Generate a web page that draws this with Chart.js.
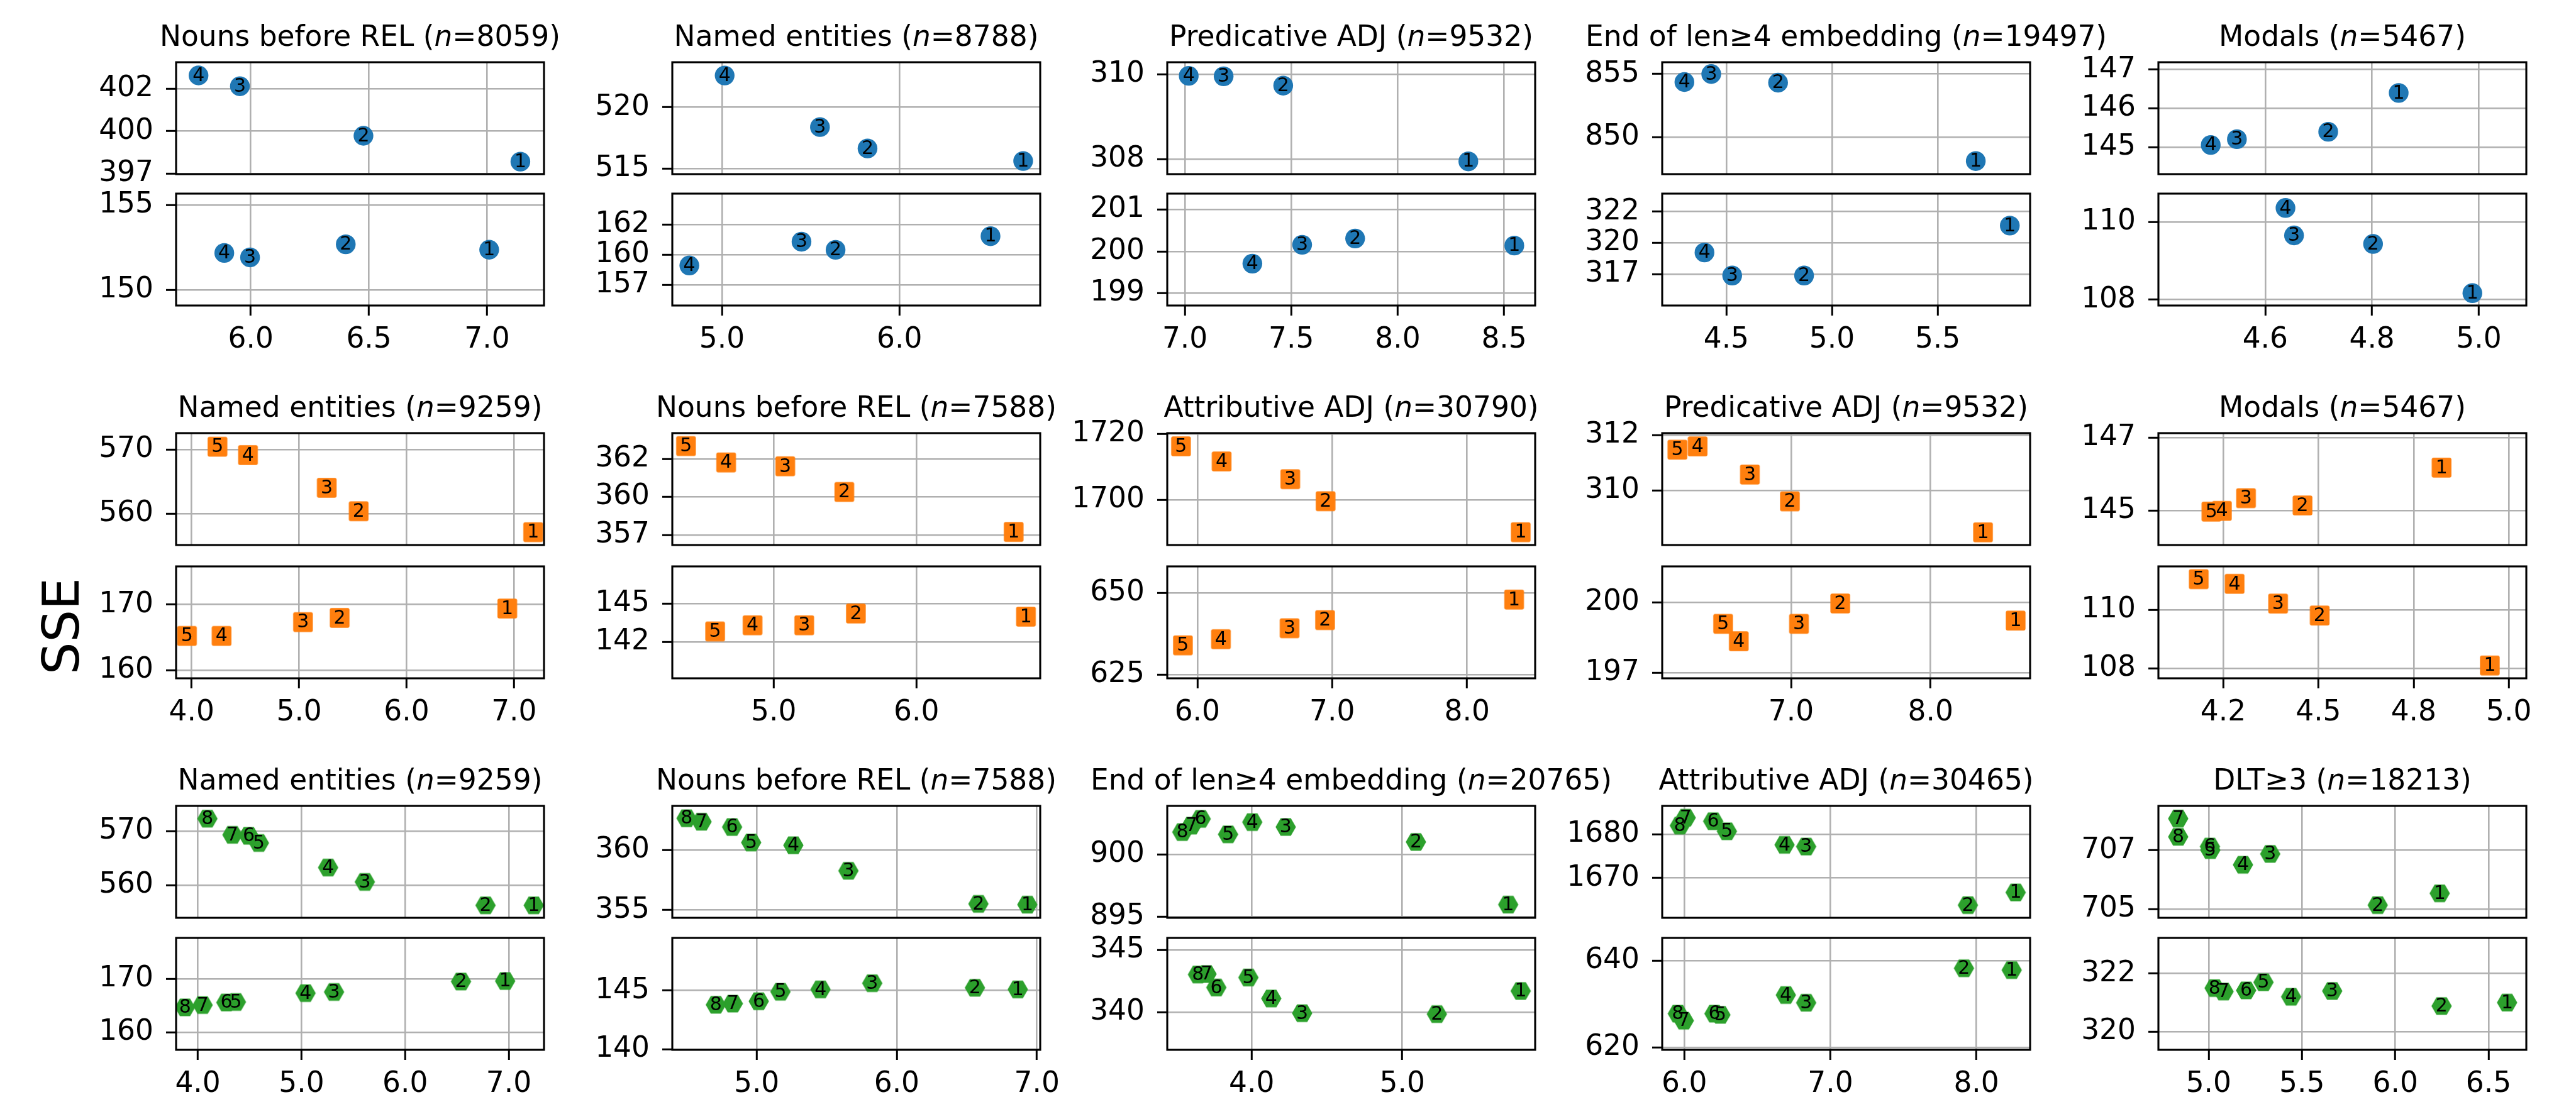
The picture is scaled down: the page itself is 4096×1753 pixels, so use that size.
<!DOCTYPE html>
<html>
<head>
<meta charset="utf-8">
<title>SSE panels</title>
<script src="https://cdn.jsdelivr.net/npm/chart.js@4.4.1/dist/chart.umd.min.js"></script>
<style>
  html, body { margin: 0; padding: 0; background: #fff; }
  body { width: 4096px; height: 1753px; position: relative; overflow: hidden; }
  canvas { position: absolute; }
  #sse {
    position: absolute; left: 97px; top: 996px;
    font-family: 'DejaVu Sans'; font-size: 81px; line-height: 1; white-space: nowrap;
    transform: translate(-50%, -50%) rotate(-90deg);
  }
</style>
</head>
<body>
<div id="sse">SSE</div>
<script>
// ---- row 1: four points per panel (blue circles) ----
const row1Titles = ['Nouns before REL', 'Named entities', 'Predicative ADJ', 'End of len\u22654 embedding', 'Modals'];
const row1N = [8059, 8788, 9532, 19497, 5467];
const row1TopX = [
    [7.141, 6.477, 5.954, 5.779],
    [6.697, 5.820, 5.552, 5.015],
    [8.332, 7.462, 7.182, 7.018],
    [5.680, 4.745, 4.429, 4.302],
    [4.850, 4.718, 4.547, 4.498]
];
const row1TopY = [
    [398.34, 399.75, 402.45, 403.04],
    [515.63, 516.65, 518.39, 522.59],
    [307.95, 309.73, 309.95, 309.96],
    [848.14, 854.32, 855.00, 854.37],
    [146.40, 145.40, 145.21, 145.06]
];
const row1BotX = [
    [7.009, 6.402, 5.997, 5.888],
    [6.513, 5.640, 5.448, 4.816],
    [8.548, 7.800, 7.551, 7.317],
    [5.841, 4.868, 4.528, 4.397],
    [4.988, 4.802, 4.654, 4.638]
];
const row1BotY = [
    [152.36, 152.68, 151.91, 152.17],
    [161.41, 160.37, 160.99, 159.18],
    [200.14, 200.31, 200.16, 199.71],
    [321.27, 317.59, 317.59, 319.29],
    [108.17, 109.44, 109.66, 110.37]
];
const row1XRange = [[5.684, 7.241], [4.720, 6.793], [6.917, 8.646], [4.197, 5.937], [4.400, 5.089]];
const row1XTicks = [[6.0, 6.5, 7.0], [5.0, 6.0], [7.0, 7.5, 8.0, 8.5], [4.5, 5.0, 5.5], [4.6, 4.8, 5.0]];
const row1XLabels = [['6.0', '6.5', '7.0'], ['5.0', '6.0'], ['7.0', '7.5', '8.0', '8.5'], ['4.5', '5.0', '5.5'], ['4.6', '4.8', '5.0']];
const row1TopYRange = [[397.66, 403.76], [514.56, 523.67], [307.65, 310.28], [847.11, 855.93], [144.31, 147.19]];
const row1TopYTicks = [[397.7, 400.0, 402.3], [515, 520], [308, 310], [850, 855], [145, 146, 147]];
const row1BotYRange = [[149.08, 155.66], [156.13, 164.65], [198.71, 201.38], [315.38, 323.63], [107.85, 110.74]];
const row1BotYTicks = [[150, 155], [157.7, 160.0, 162.3], [199, 200, 201], [317.7, 320.0, 322.3], [108, 110]];

// ---- row 2: five points per panel (orange squares) ----
const row2Titles = ['Named entities', 'Nouns before REL', 'Attributive ADJ', 'Predicative ADJ', 'Modals'];
const row2N = [9259, 7588, 30790, 9532, 5467];
const row2TopX = [
    [7.178, 5.554, 5.257, 4.524, 4.240],
    [6.681, 5.495, 5.081, 4.667, 4.386],
    [8.398, 6.951, 6.689, 6.180, 5.879],
    [8.376, 6.991, 6.704, 6.329, 6.184],
    [4.888, 4.450, 4.272, 4.196, 4.163]
];
const row2TopY = [
    [557.18, 560.42, 564.05, 569.12, 570.42],
    [357.89, 360.30, 361.85, 362.08, 363.07],
    [1690.2, 1699.6, 1706.3, 1711.7, 1716.3],
    [308.48, 309.60, 310.57, 311.59, 311.47],
    [146.18, 145.14, 145.34, 144.99, 144.97]
];
const row2BotX = [
    [6.937, 5.377, 5.036, 4.278, 3.956],
    [6.767, 5.576, 5.214, 4.852, 4.590],
    [8.349, 6.947, 6.684, 6.175, 5.893],
    [8.610, 7.352, 7.056, 6.624, 6.512],
    [5.040, 4.504, 4.373, 4.236, 4.123]
];
const row2BotY = [
    [169.40, 167.98, 167.34, 165.24, 165.24],
    [143.99, 144.24, 143.31, 143.31, 142.82],
    [647.95, 641.67, 639.17, 635.83, 633.94],
    [199.22, 199.95, 199.08, 198.34, 199.08],
    [108.09, 109.81, 110.22, 110.90, 111.06]
];
const row2XRange = [[3.855, 7.279], [4.290, 6.867], [5.777, 8.505], [6.075, 8.714], [3.996, 5.155]];
const row2XTicks = [[4, 5, 6, 7], [5, 6], [6, 7, 8], [7, 8], [4.2, 4.5, 4.8, 5.1]];
const row2XLabels = [['4.0', '5.0', '6.0', '7.0'], ['5.0', '6.0'], ['6.0', '7.0', '8.0'], ['7.0', '8.0'], ['4.2', '4.5', '4.8', '5.0']];
const row2TopYRange = [[555.19, 572.52], [357.10, 363.85], [1686.3, 1720.3], [308.02, 312.07], [144.05, 147.13]];
const row2TopYTicks = [[560, 570], [357.7, 360.0, 362.3], [1700, 1720], [310, 312], [145, 147]];
const row2BotYRange = [[158.80, 175.8], [139.12, 147.96], [623.86, 658.1], [196.76, 201.53], [107.65, 111.50]];
const row2BotYTicks = [[160, 170], [142, 145], [625, 650], [197, 200], [108, 110]];

// ---- row 3: eight points per panel (green hexagons) ----
const row3Titles = ['Named entities', 'Nouns before REL', 'End of len\u22654 embedding', 'Attributive ADJ', 'DLT\u22653'];
const row3N = [9259, 7588, 20765, 30465, 18213];
const row3TopX = [
    [7.241, 6.776, 5.611, 5.257, 4.589, 4.491, 4.334, 4.092],
    [6.932, 6.583, 5.655, 5.262, 4.961, 4.825, 4.607, 4.500],
    [5.704, 5.091, 4.226, 4.004, 3.843, 3.661, 3.600, 3.539],
    [8.269, 7.942, 6.834, 6.686, 6.291, 6.197, 6.009, 5.969],
    [6.238, 5.906, 5.330, 5.184, 5.009, 5.007, 4.837, 4.837]
];
const row3TopY = [
    [556.32, 556.32, 560.64, 563.29, 567.82, 569.15, 569.32, 572.31],
    [355.46, 355.52, 358.28, 360.41, 360.64, 361.93, 362.37, 362.66],
    [895.97, 900.99, 902.19, 902.58, 901.60, 902.84, 902.30, 901.78],
    [1666.7, 1663.8, 1677.2, 1677.6, 1680.7, 1683.0, 1683.8, 1682.0],
    [705.54, 705.14, 706.88, 706.51, 707.01, 707.13, 708.08, 707.46]
];
const row3BotX = [
    [6.965, 6.539, 5.314, 5.039, 4.367, 4.275, 4.046, 3.876],
    [6.864, 6.558, 5.825, 5.456, 5.170, 5.015, 4.830, 4.709],
    [5.787, 5.230, 4.335, 4.130, 3.978, 3.765, 3.700, 3.643],
    [8.242, 7.915, 6.834, 6.695, 6.247, 6.206, 5.996, 5.955],
    [6.599, 6.248, 5.662, 5.442, 5.294, 5.201, 5.080, 5.032]
];
const row3BotY = [
    [169.61, 169.52, 167.57, 167.35, 165.70, 165.61, 165.13, 164.70],
    [145.10, 145.24, 145.63, 145.10, 144.90, 144.09, 143.89, 143.79],
    [341.72, 339.87, 339.94, 341.12, 342.80, 342.00, 343.08, 343.04],
    [637.85, 638.28, 630.32, 632.10, 627.53, 627.80, 626.18, 627.80],
    [321.00, 320.88, 321.40, 321.20, 321.70, 321.42, 321.38, 321.50]
];
const row3XRange = [[3.790, 7.340], [4.398, 7.024], [3.439, 5.883], [5.848, 8.368], [4.731, 6.702]];
const row3XTicks = [[4, 5, 6, 7], [5, 6, 7], [4, 5], [6, 7, 8], [5, 5.5, 6, 6.5]];
const row3XLabels = [['4.0', '5.0', '6.0', '7.0'], ['5.0', '6.0', '7.0'], ['4.0', '5.0'], ['6.0', '7.0', '8.0'], ['5.0', '5.5', '6.0', '6.5']];
const row3TopYRange = [[554.02, 574.66], [354.36, 363.69], [894.91, 903.88], [1660.9, 1686.5], [704.71, 708.51]];
const row3TopYTicks = [[560, 570], [355, 360], [895, 900], [1670, 1680], [705, 707]];
const row3BotYRange = [[156.78, 177.65], [139.95, 149.49], [337.01, 345.97], [619.46, 645.27], [319.37, 323.23]];
const row3BotYTicks = [[160, 170], [140, 145], [340, 345], [620, 640], [320, 322]];

// Layout (px in the 4096x1753 page)
const COL_LEFT = [280, 1069, 1856, 2643, 3432];
const ROW_TOP = [[99, 308], [689, 901], [1282, 1492]];
const BOX_W = 585, BOX_H = 178;
const PAD_L = 170, PAD_R = 160;
const FONT = 'DejaVu Sans';
const GRID = '#b0b0b0';

// Marker shapes
function makeSquare(side, color) {
    const c = document.createElement('canvas');
    c.width = Math.ceil(side) + 2; c.height = Math.ceil(side) + 2;
    const g = c.getContext('2d');
    g.fillStyle = color;
    g.beginPath();
    g.roundRect((c.width - side) / 2, (c.height - side) / 2, side, side, 3);
    g.fill();
    return c;
}

function makeHexagon(r, color) {
    const c = document.createElement('canvas');
    c.width = Math.ceil(2 * r) + 2; c.height = Math.ceil(Math.sqrt(3) * r) + 2;
    const g = c.getContext('2d');
    g.fillStyle = color;
    g.beginPath();
    for (let i = 0; i < 6; i++) {
        const a = Math.PI / 3 * i;
        const px = c.width / 2 + r * Math.cos(a), py = c.height / 2 + r * Math.sin(a);
        if (i === 0) g.moveTo(px, py); else g.lineTo(px, py);
    }
    g.closePath();
    g.fill();
    return c;
}

const markers = [
    { style: 'circle', color: '#1f77b4' },
    { style: makeSquare(31.3, '#ff7f0e'), color: '#ff7f0e' },
    { style: makeHexagon(16.2, '#2ca02c'), color: '#2ca02c' }
];

const rows = [
    { titles: row1Titles, n: row1N, topX: row1TopX, topY: row1TopY, botX: row1BotX, botY: row1BotY,
      xRange: row1XRange, xTicks: row1XTicks, xLabels: row1XLabels,
      topRange: row1TopYRange, topTicks: row1TopYTicks, botRange: row1BotYRange, botTicks: row1BotYTicks },
    { titles: row2Titles, n: row2N, topX: row2TopX, topY: row2TopY, botX: row2BotX, botY: row2BotY,
      xRange: row2XRange, xTicks: row2XTicks, xLabels: row2XLabels,
      topRange: row2TopYRange, topTicks: row2TopYTicks, botRange: row2BotYRange, botTicks: row2BotYTicks },
    { titles: row3Titles, n: row3N, topX: row3TopX, topY: row3TopY, botX: row3BotX, botY: row3BotY,
      xRange: row3XRange, xTicks: row3XTicks, xLabels: row3XLabels,
      topRange: row3TopYRange, topTicks: row3TopYTicks, botRange: row3BotYRange, botTicks: row3BotYTicks }
];

// Draws axes box, numbers inside markers and the panel title
function decorPlugin(title, n) {
    return {
        id: 'decor',
        afterDatasetsDraw(chart) {
            const ctx = chart.ctx, a = chart.chartArea;
            ctx.save();
            ctx.strokeStyle = '#000';
            ctx.lineWidth = 3.1;
            ctx.strokeRect(a.left, a.top, a.right - a.left, a.bottom - a.top);

            ctx.fillStyle = '#000';
            ctx.font = '30px "' + FONT + '"';
            ctx.textAlign = 'center';
            ctx.textBaseline = 'middle';
            chart.getDatasetMeta(0).data.forEach((pt, i) => {
                ctx.fillText(String(i + 1), pt.x, pt.y + 1);
            });

            if (title) {
                const parts = [
                    [title + ' (', 'normal'],
                    ['n', 'italic'],
                    ['=' + n + ')', 'normal']
                ];
                let total = 0;
                parts.forEach(p => {
                    ctx.font = p[1] + ' 45.5px "' + FONT + '"';
                    p.push(ctx.measureText(p[0]).width);
                    total += p[2];
                });
                let x = (a.left + a.right) / 2 - total / 2;
                ctx.textAlign = 'left';
                ctx.textBaseline = 'alphabetic';
                parts.forEach(p => {
                    ctx.font = p[1] + ' 45.5px "' + FONT + '"';
                    ctx.fillText(p[0], x, a.top - 26);
                    x += p[2];
                });
            }
            ctx.restore();
        }
    };
}

function createPanel(r, c, bottom) {
    const row = rows[r];
    const xs = bottom ? row.botX[c] : row.topX[c];
    const ys = bottom ? row.botY[c] : row.topY[c];
    const yRange = bottom ? row.botRange[c] : row.topRange[c];
    const yTicks = bottom ? row.botTicks[c] : row.topTicks[c];
    const xTicks = row.xTicks[c];
    const xLabels = row.xLabels[c];

    const padT = bottom ? 40 : 90;
    const padB = bottom ? 100 : 35;
    const w = PAD_L + BOX_W + PAD_R;
    const h = padT + BOX_H + padB;

    const canvas = document.createElement('canvas');
    canvas.width = w; canvas.height = h;
    canvas.style.width = w + 'px'; canvas.style.height = h + 'px';
    canvas.style.left = (COL_LEFT[c] - PAD_L) + 'px';
    canvas.style.top = (ROW_TOP[r][bottom ? 1 : 0] - padT) + 'px';
    document.body.appendChild(canvas);

    const tickFont = { family: FONT, size: 45.5 };

    return new Chart(canvas, {
        type: 'scatter',
        data: {
            datasets: [{
                data: xs.map((x, i) => ({ x: x, y: ys[i] })),
                pointStyle: markers[r].style,
                pointRadius: 15.7,
                backgroundColor: markers[r].color,
                borderWidth: 0
            }]
        },
        options: {
            responsive: false,
            animation: false,
            devicePixelRatio: 1,
            events: [],
            // y scale box = PAD_L wide, x scale box = padB tall (bottom panels)
            layout: { padding: { left: 0, right: PAD_R, top: padT, bottom: bottom ? 0 : padB } },
            plugins: { legend: { display: false }, tooltip: { enabled: false } },
            scales: {
                x: {
                    type: 'linear',
                    position: 'bottom',
                    min: row.xRange[c][0],
                    max: row.xRange[c][1],
                    afterBuildTicks: s => { s.ticks = xTicks.map(v => ({ value: v })); },
                    afterFit: s => { s.height = bottom ? padB : 0; s.paddingLeft = 0; s.paddingRight = 0; },
                    border: { display: false },
                    grid: { color: GRID, lineWidth: 2.6, drawTicks: bottom, tickLength: 16, tickColor: '#000', tickWidth: 3 },
                    ticks: {
                        display: bottom, autoSkip: false, maxRotation: 0, padding: 12,
                        color: '#000', font: tickFont,
                        callback: (v, i) => xLabels[i]
                    }
                },
                y: {
                    type: 'linear',
                    position: 'left',
                    min: yRange[0],
                    max: yRange[1],
                    afterBuildTicks: s => { s.ticks = yTicks.map(v => ({ value: v })); },
                    afterFit: s => { s.width = PAD_L; s.paddingTop = 0; s.paddingBottom = 0; },
                    border: { display: false },
                    grid: { color: GRID, lineWidth: 2.6, drawTicks: true, tickLength: 16, tickColor: '#000', tickWidth: 3 },
                    ticks: {
                        autoSkip: false, padding: 20, color: '#000', font: tickFont,
                        // labels are truncated like the original figure
                        callback: (v, i) => String(Math.floor(yTicks[i] + 1e-9))
                    }
                }
            }
        },
        plugins: [decorPlugin(bottom ? null : row.titles[c], row.n[c])]
    });
}

// Build all 30 subplots
for (let r = 0; r < 3; r++) {
    for (let c = 0; c < 5; c++) {
        createPanel(r, c, false);
        createPanel(r, c, true);
    }
}
</script>
</body>
</html>
